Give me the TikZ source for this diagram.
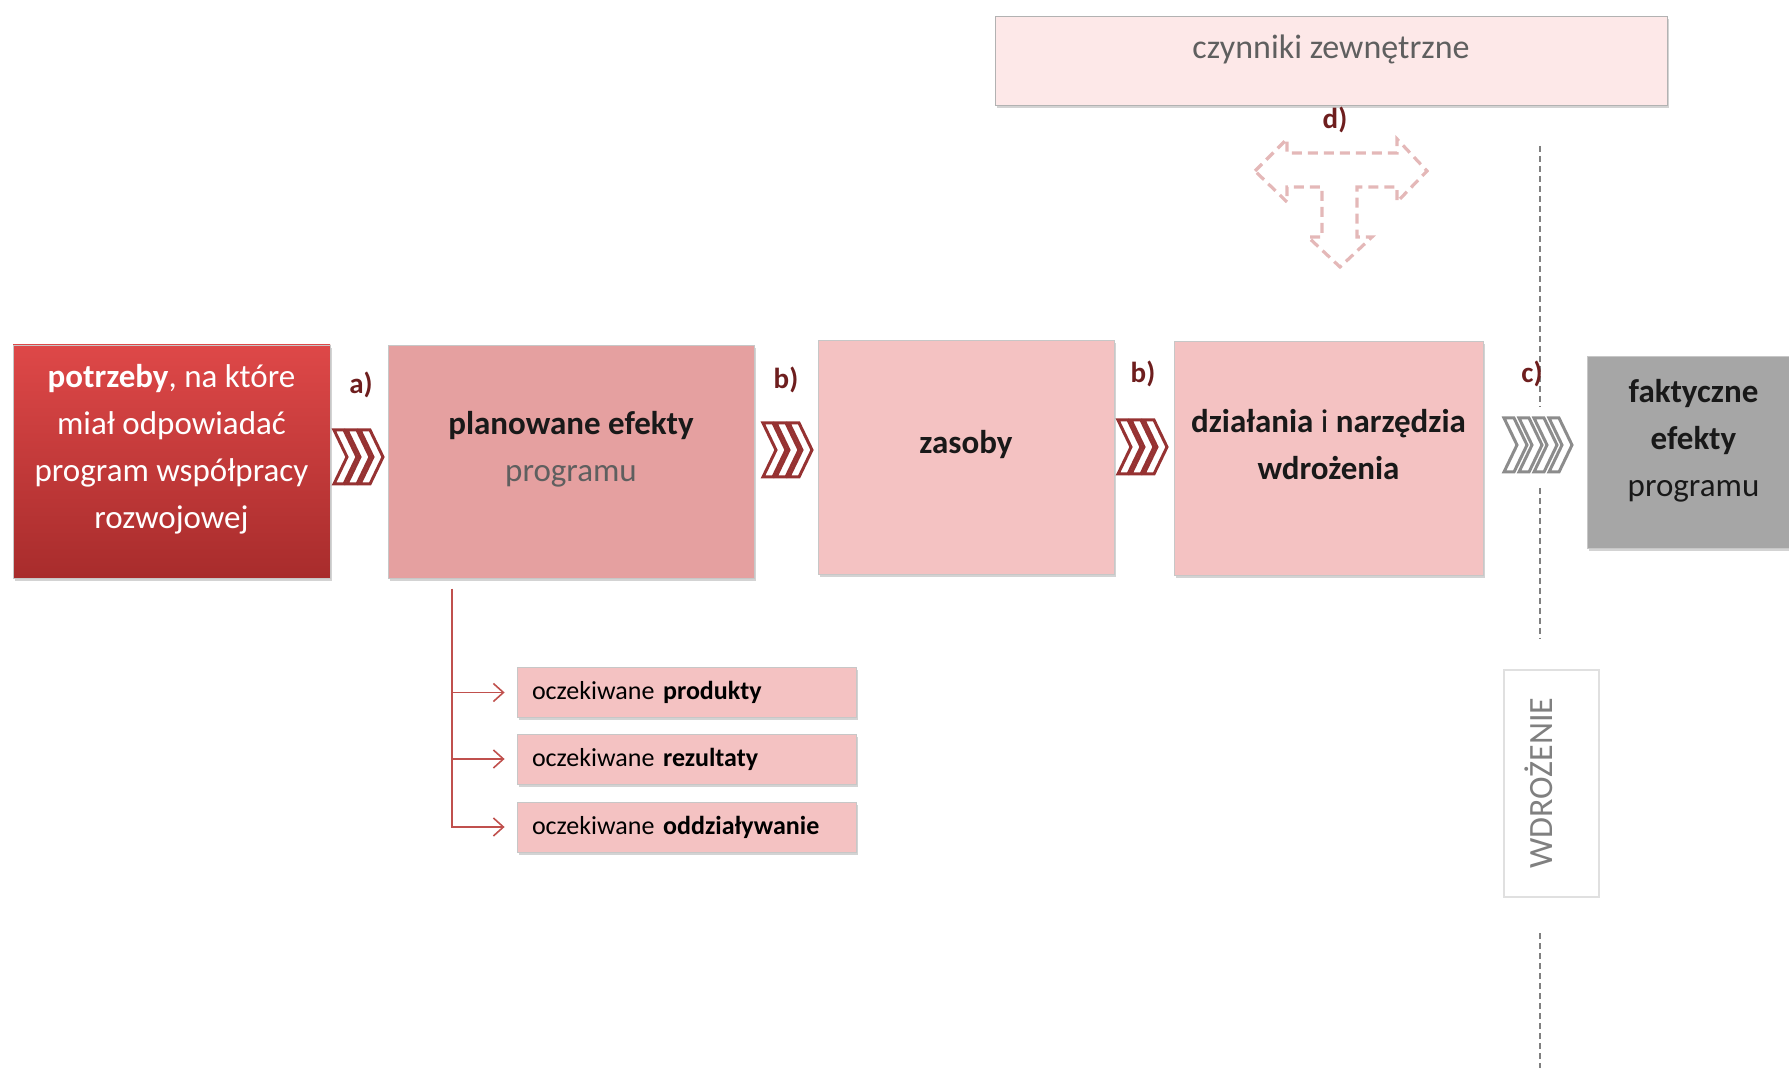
\documentclass[tikz,border=0pt]{standalone}
\usepackage{fontspec}
\setmainfont{Carlito}
\usetikzlibrary{shadows,arrows.meta}

\definecolor{needtop}{RGB}{222,72,72}
\definecolor{needbot}{RGB}{168,44,44}
\definecolor{planfill}{RGB}{229,160,160}
\definecolor{lightfill}{RGB}{244,194,194}
\definecolor{extfill}{RGB}{253,232,232}
\definecolor{effgray}{RGB}{166,166,166}
\definecolor{labred}{RGB}{110,30,30}
\definecolor{chevred}{RGB}{150,50,50}
\definecolor{chevgray}{RGB}{140,140,140}
\definecolor{tarrowc}{RGB}{228,184,184}
\definecolor{linered}{RGB}{192,80,77}
\definecolor{txtgray}{RGB}{95,95,95}

\tikzset{
  box/.style={draw=black!22, line width=0.4pt, inner sep=0pt,
    drop shadow={shadow xshift=1.2pt, shadow yshift=-1.4pt, opacity=0.35}},
  needbox/.style={box, top color=needtop, bottom color=needbot},
  planbox/.style={box, fill=planfill},
  pinkbox/.style={box, fill=lightfill},
  factbox/.style={box, fill=effgray},
  extbox/.style={box, fill=extfill, draw=black!30},
  wdrbox/.style={draw=black!12, fill=white, line width=0.6pt},
  wdrtext/.style={rotate=90, inner sep=0pt, text=black!50, font=\fontsize{17}{20}\selectfont},
  subbox/.style={pinkbox, minimum height=25pt, text width=154.5pt,
    inner xsep=7.5pt, align=left, font=\fontsize{13}{15}\selectfont},
  boxtext/.style={align=center, inner sep=0pt, text=black!90},
  steplabel/.style={font=\fontsize{14.5}{16}\selectfont\bfseries, text=labred, inner sep=0pt},
  chev/.style={draw=chevred, fill=white, line width=1.5pt, line join=miter},
  chevg/.style={chev, draw=chevgray},
  tarrow/.style={draw=tarrowc, dash pattern=on 5pt off 3pt, line width=1.6pt},
  divider/.style={draw=black!50, dash pattern=on 3pt off 2pt, line width=0.6pt},
  branch/.style={draw=linered, line width=0.8pt, -{Straight Barb[length=5pt,width=9pt]}},
}

% left x, top y, count, step, style
\newcommand{\chevrons}[5]{%
  \foreach \k in {1,...,#3}{
    \draw[#5] ({#1+(\k-1)*#4},#2) -- ++(10,0) -- ++(13,27) -- ++(-13,27)
      -- ++(-10,0) -- ++(13,-27) -- cycle;
  }}

\begin{document}
\begin{tikzpicture}[x=0.5pt,y=-0.5pt,font=\fontsize{16.5}{23.5}\selectfont]
  \useasboundingbox (0,0) rectangle (1789,1068);

  \node (czynniki) at (1331,60.5) [extbox, minimum width=336pt, minimum height=44.5pt] {};
  \node (czynnikiT) at (1331,49) [boxtext, text=txtgray, font=\fontsize{17}{20}\selectfont] {czynniki zewnętrzne};
  \node (labD) at (1335,120) [steplabel] {d)};

  % three-way arrow
  \draw[tarrow] (1255,171) -- (1287,139) -- (1287,153) -- (1397,153) -- (1397,139)
    -- (1427,171) -- (1397,202) -- (1397,187) -- (1357,187) -- (1357,237)
    -- (1372,237) -- (1340,267) -- (1308,237) -- (1322,237) -- (1322,187)
    -- (1287,187) -- (1287,202) -- cycle;

  \coordinate (divA) at (1540,146);
  \coordinate (divB) at (1540,407);
  \coordinate (divC) at (1540,488);
  \coordinate (divD) at (1540,639);
  \coordinate (divE) at (1540,933);
  \coordinate (divF) at (1540,1068);
  \draw[divider] (divA) -- (divB);
  \draw[divider] (divC) -- (divD);
  \draw[divider] (divE) -- (divF);

  \node (potrzeby)  at (171.5,461.5) [needbox, minimum width=158.5pt, minimum height=116.5pt] {};
  \node (plan)      at (571,461.5)   [planbox, minimum width=183pt, minimum height=116.5pt] {};
  \node (zasoby)    at (966,457)     [pinkbox, minimum width=148pt, minimum height=117pt] {};
  \node (dzialania) at (1328.5,458)  [pinkbox, minimum width=154.5pt, minimum height=117pt] {};
  \node (fakt)      at (1693.5,452)  [factbox, minimum width=106.5pt, minimum height=96pt] {};

  \node (potrzebyT)  at (171.5,449) [boxtext, text=white]
    {\textbf{potrzeby}, na które\\miał odpowiadać\\program współpracy\\rozwojowej};
  \node (planT)      at (571,449)    [boxtext] {\textbf{planowane efekty}\\{\color{txtgray}programu}};
  \node (zasobyT)    at (966,445)    [boxtext] {\textbf{zasoby}};
  \node (dzialaniaT) at (1328.5,445) [boxtext] {\textbf{działania} i \textbf{narzędzia}\\\textbf{wdrożenia}};
  \node (faktT)      at (1693.5,441) [boxtext] {\textbf{faktyczne}\\\textbf{efekty}\\programu};

  \node (labA)  at (361,385)  [steplabel] {a)};
  \node (labB1) at (786,380)  [steplabel] {b)};
  \node (labB2) at (1143,374) [steplabel] {b)};
  \node (labC)  at (1532,374) [steplabel] {c)};

  \chevrons{334}{430}{3}{13}{chev}
  \chevrons{763}{423}{3}{13}{chev}
  \chevrons{1118}{420}{3}{13}{chev}
  \chevrons{1504}{418}{4}{15}{chevg}

  \node (wdr) at (1551.5,783.5) [wdrbox, minimum width=47.5pt, minimum height=113.5pt] {};
  \node (wdrT) at (1539,783) [wdrtext] {WDROŻENIE};

  \node (prod)  at (686.5,692.5) [subbox] {oczekiwane \textbf{produkty}};
  \node (rez)   at (686.5,759)   [subbox] {oczekiwane \textbf{rezultaty}};
  \node (oddz)  at (686.5,827)   [subbox] {oczekiwane \textbf{oddziaływanie}};

  \coordinate (brtop) at (452,589);
  \draw[branch] (brtop) |- ([xshift=-6pt]prod.west);
  \draw[branch] (brtop) |- ([xshift=-6pt]rez.west);
  \draw[branch] (brtop) |- ([xshift=-6pt]oddz.west);
\end{tikzpicture}
\end{document}
